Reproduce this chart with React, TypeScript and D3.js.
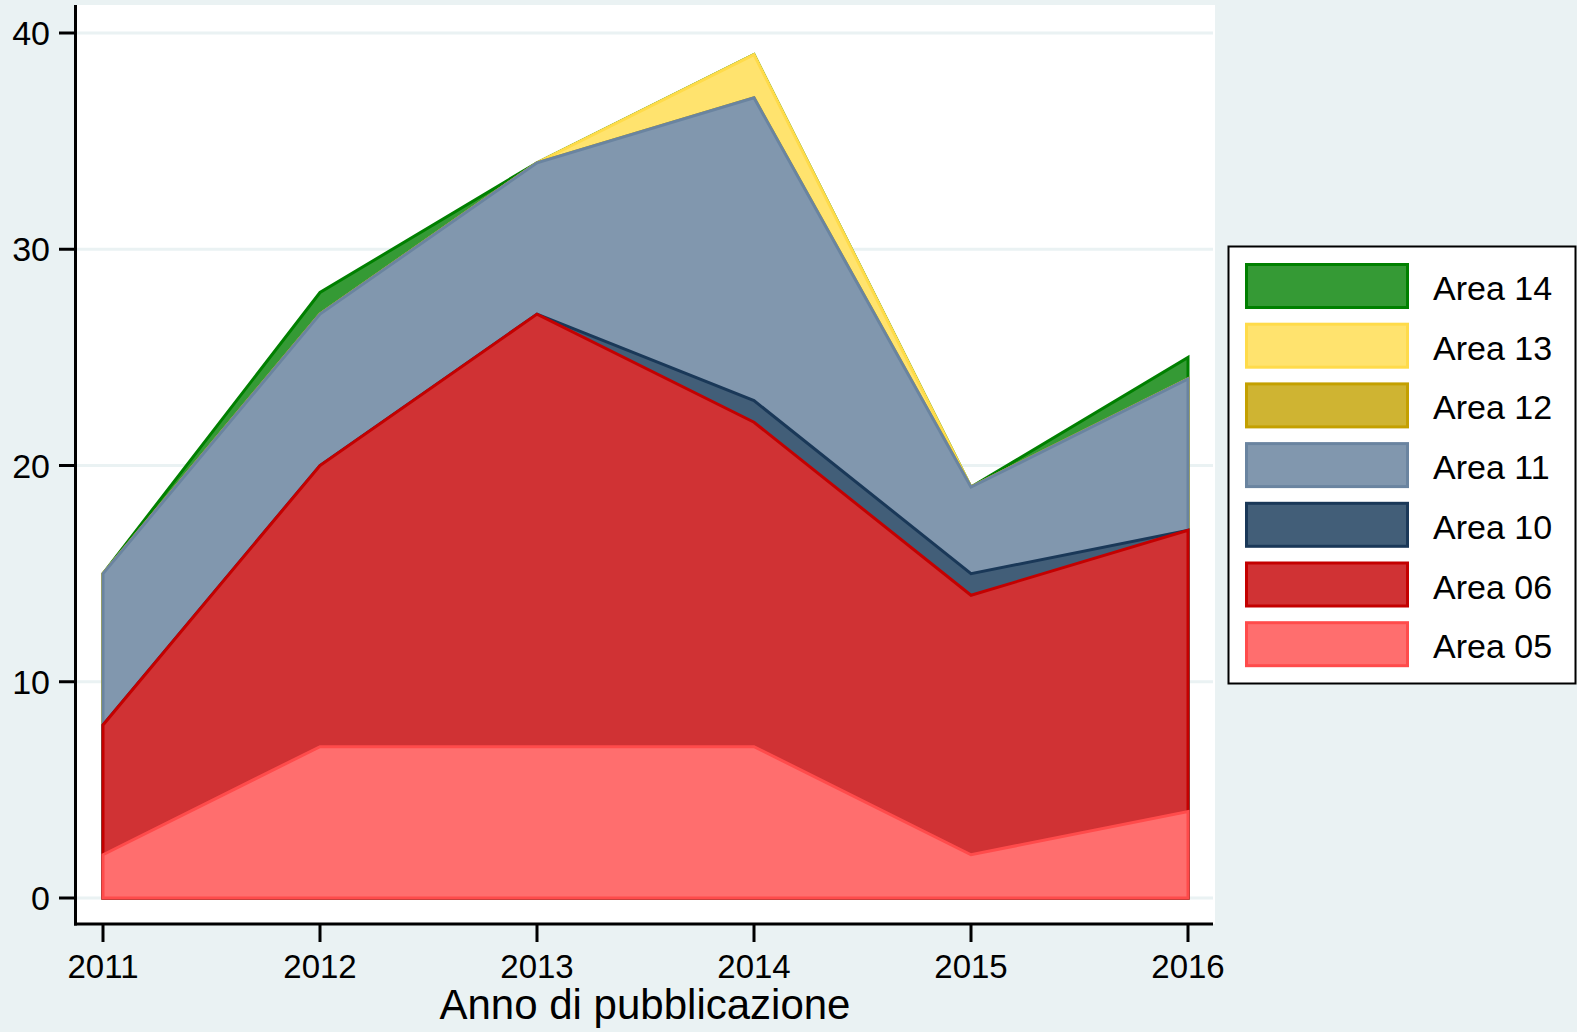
import React from 'react';
import * as d3 from 'd3';

// years on the x axis
const years = [2011, 2012, 2013, 2014, 2015, 2016];

// publications per area (stacked from bottom to top)
const area05 = [2, 7, 7, 7, 2, 4];
const area06 = [6, 13, 20, 15, 12, 13];
const area10 = [0, 0, 0, 1, 1, 0];
const area11 = [7, 7, 7, 14, 4, 7];
const area12 = [0, 0, 0, 0, 0, 0];
const area13 = [0, 0, 0, 2, 0, 0];
const area14 = [0, 1, 0, 0, 0, 1];

const yTicks = [0, 10, 20, 30, 40];

const series = [
  { name: 'Area 05', values: area05, fill: '#ff6e6e', stroke: '#ff4b4b' },
  { name: 'Area 06', values: area06, fill: '#d03234', stroke: '#c40000' },
  { name: 'Area 10', values: area10, fill: '#425e78', stroke: '#1a3858' },
  { name: 'Area 11', values: area11, fill: '#8197ae', stroke: '#6a84a0' },
  { name: 'Area 12', values: area12, fill: '#cfb432', stroke: '#c4a000' },
  { name: 'Area 13', values: area13, fill: '#ffe36e', stroke: '#ffdb4a' },
  { name: 'Area 14', values: area14, fill: '#359a35', stroke: '#008000' },
];

const W = 1577;
const H = 1032;
const BG = '#eaf2f3';
const FONT = '"Liberation Sans", Arial, Helvetica, sans-serif';

const plot = { left: 77, right: 1215, top: 5, bottom: 924 };

export default function App() {
  const x = d3.scaleLinear().domain([2011, 2016]).range([103, 1188]);
  const y = d3.scaleLinear().domain([0, 40]).range([898, 33]);

  // cumulative totals
  const cum: number[][] = [];
  series.forEach((s, i) => {
    cum.push(s.values.map((v, j) => v + (i > 0 ? cum[i - 1][j] : 0)));
  });

  const area = d3
    .area<number>()
    .x((_, i) => x(years[i]))
    .y0(y(0))
    .y1((d) => y(d));

  // Stata draws the biggest (top) layer first
  const order = series.map((_, i) => i).reverse();

  return (
    <svg width={W} height={H} style={{ position: 'absolute', left: 0, top: 0 }}>
      <rect x={0} y={0} width={W} height={H} fill={BG} />
      <rect x={plot.left} y={plot.top} width={plot.right - plot.left} height={plot.bottom - plot.top} fill="#fff" />

      {yTicks.map((t) => (
        <line key={t} x1={plot.left} x2={plot.right - 2} y1={y(t)} y2={y(t)} stroke={BG} strokeWidth={3} />
      ))}

      {order.map((i) => (
        <path
          key={series[i].name}
          d={area(cum[i]) + 'Z'}
          fill={series[i].fill}
          stroke={series[i].stroke}
          strokeWidth={3}
          strokeLinejoin="miter"
        />
      ))}

      {/* axes */}
      <line x1={75.5} x2={75.5} y1={plot.top} y2={plot.bottom + 1.5} stroke="#000" strokeWidth={3} />
      <line x1={74} x2={plot.right - 2} y1={plot.bottom} y2={plot.bottom} stroke="#000" strokeWidth={3} />

      {yTicks.map((t) => (
        <g key={t}>
          <line x1={59} x2={75} y1={y(t)} y2={y(t)} stroke="#000" strokeWidth={3} />
          <text x={50} y={y(t) + 12} textAnchor="end" fontFamily={FONT} fontSize={34} fill="#000">
            {t}
          </text>
        </g>
      ))}

      {years.map((yr) => (
        <g key={yr}>
          <line x1={x(yr)} x2={x(yr)} y1={plot.bottom} y2={942} stroke="#000" strokeWidth={3} />
          <text x={x(yr)} y={978} textAnchor="middle" fontFamily={FONT} fontSize={33} fill="#000">
            {yr}
          </text>
        </g>
      ))}

      <text x={645} y={1019} textAnchor="middle" fontFamily={FONT} fontSize={42} fill="#000">
        Anno di pubblicazione
      </text>

      {/* legend */}
      <rect x={1228.5} y={246.5} width={347} height={437} fill="#fff" stroke="#000" strokeWidth={2} />
      {order.map((i, k) => {
        const top = 263 + k * 59.7;
        return (
          <g key={series[i].name}>
            <rect
              x={1246.5}
              y={top + 1.5}
              width={161}
              height={43}
              fill={series[i].fill}
              stroke={series[i].stroke}
              strokeWidth={3}
            />
            <text x={1433} y={top + 37} fontFamily={FONT} fontSize={34} fill="#000">
              {series[i].name}
            </text>
          </g>
        );
      })}
    </svg>
  );
}
